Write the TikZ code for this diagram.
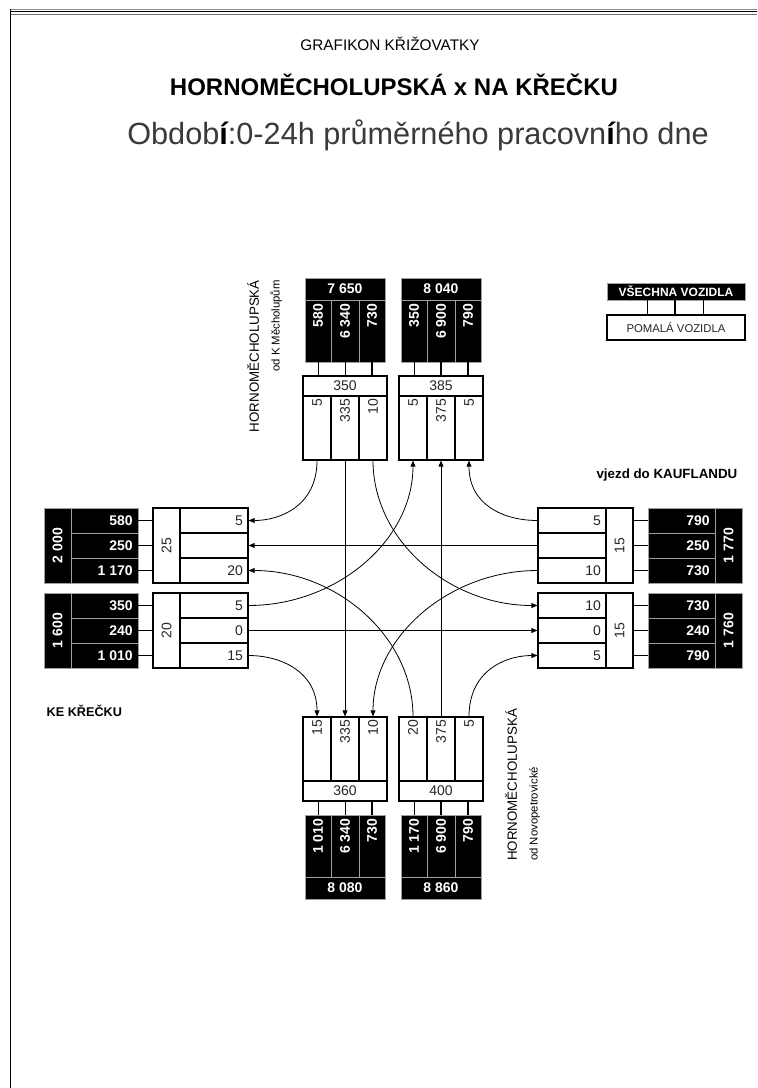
\documentclass[tikz,border=0pt]{standalone}
\usepackage{fontspec}
\setmainfont{Liberation Sans}
\usetikzlibrary{arrows.meta, positioning, fit, calc}
\definecolor{titlegray}{HTML}{3A3A3A}
\definecolor{rulegray}{HTML}{8C8C8C}
\definecolor{splitgray}{HTML}{A0A0A0}

\begin{document}
\begin{tikzpicture}[x=0.75pt, y=-0.75pt,
  wcell/.style={draw, line width=0.8pt, inner sep=0pt},
  wframe/.style={draw, line width=1.4pt, inner sep=0pt},
  bcell/.style={draw=splitgray, fill=black, line width=0.5pt, inner sep=0pt},
  wnum/.style={font=\fontsize{10.5}{11}\selectfont, text=black!85, inner sep=1pt},
  bnum/.style={font=\bfseries\fontsize{10.5}{11}\selectfont, text=white, inner sep=1pt},
  tie/.style={line width=#1},
  tie/.default=0.6pt,
  flow/.style={line width=0.6pt},
  arr/.style={flow, -{Triangle[length=4.5pt, width=3.6pt]}},
  lbl/.style={font=\fontsize{8.5}{15.5}\selectfont, inner sep=0pt}
]
\useasboundingbox (0,0) rectangle (757,1088);

% page frame
\draw[rulegray, line width=0.7pt] (10,9.5) -- (757,9.5);
\draw[line width=1.1pt] (10,11.5) -- (757,11.5);
\draw[rulegray!80!black, line width=1.4pt] (10,14.5) -- (757,14.5);
\draw[line width=1.1pt] (10.5,9) -- (10.5,1088);

% titles
\node[font=\fontsize{11.5}{13}\selectfont] (title) at (390,44) {GRAFIKON KŘIŽOVATKY};
\node[font=\bfseries\fontsize{18}{20}\selectfont] (junction) at (394,85)
  {HORNOMĚCHOLUPSKÁ x NA KŘEČKU};
\node[font=\fontsize{23}{26}\selectfont, text=titlegray] (period) at (418,135)
  {Obdob{\color{black}\bfseries í}:0-24h průměrného pracovn{\color{black}\bfseries í}ho dne};

% legend
\node[bcell, fit={(607,283) (745,300)}] (allveh) {};
\node[bnum, font=\bfseries\fontsize{9}{10}\selectfont] (allvehtxt) at (allveh.center) {VŠECHNA VOZIDLA};
\node[wframe, fit={(607,315) (745,340)}] (slowveh) {};
\node[wnum, font=\fontsize{8.5}{10}\selectfont] (slowvehtxt) at (slowveh.center) {POMALÁ VOZIDLA};
\foreach \dx/\w in {-29/0.6pt, -1/1.1pt, 27/0.6pt}
  \draw[tie=\w] (allveh.south) ++(\dx,0) coordinate (lg) -- (lg |- slowveh.north);

% north approach (from K Mecholupum)
\foreach \i/\xa/\xb/\v in {1/303/331/5, 2/331/359/335, 3/359/387/10} {
  \node[wcell, fit={(\xa,396) (\xb,460)}] (ni\i) {};
  \node[wnum, rotate=90, anchor=east] (niv\i) at ([yshift=-1.5pt]ni\i.north) {\v};
}
\node[wcell, fit={(303,376) (387,396)}] (niT) {};
\node[wnum] (nitot) at (niT.center) {350};
\node[wframe, fit={(303,376) (387,460)}] (nibox) {};
\foreach \i/\xa/\xb/\v/\w in {1/305/331/580/0.6pt, 2/331/359/6 340/0.6pt, 3/359/385/730/1.1pt} {
  \node[bcell, fit={(\xa,300) (\xb,362)}] (nib\i) {};
  \node[bnum, rotate=90, anchor=east] (nibv\i) at ([yshift=-2pt]nib\i.north) {\v};
  \draw[tie=\w] (nib\i.south) -- (nib\i.south |- niT.north);
}
\node[bcell, fit={(305,278) (385,300)}] (nibT) {};
\node[bnum] (nibtot) at (nibT.center) {7 650};

% north exit
\foreach \i/\xa/\xb/\v in {1/399/427/5, 2/427/455/375, 3/455/483/5} {
  \node[wcell, fit={(\xa,396) (\xb,460)}] (no\i) {};
  \node[wnum, rotate=90, anchor=east] (nov\i) at ([yshift=-1.5pt]no\i.north) {\v};
}
\node[wcell, fit={(399,376) (483,396)}] (noT) {};
\node[wnum] (notot) at (noT.center) {385};
\node[wframe, fit={(399,376) (483,460)}] (nobox) {};
\foreach \i/\xa/\xb/\v/\w in {1/401/427/350/0.6pt, 2/427/455/6 900/1.1pt, 3/455/481/790/1.1pt} {
  \node[bcell, fit={(\xa,300) (\xb,362)}] (nob\i) {};
  \node[bnum, rotate=90, anchor=east] (nobv\i) at ([yshift=-2pt]nob\i.north) {\v};
  \draw[tie=\w] (nob\i.south) -- (nob\i.south |- noT.north);
}
\node[bcell, fit={(401,278) (481,300)}] (nobT) {};
\node[bnum] (nobtot) at (nobT.center) {8 040};

% west exit
\foreach \i/\ya/\yb/\v in {1/508/533/5, 2/533/558/{}, 3/558/583/20} {
  \node[wcell, fit={(180,\ya) (248,\yb)}] (wo\i) {};
  \node[wnum, anchor=east] (wov\i) at ([xshift=-3pt]wo\i.east) {\v};
}
\node[wcell, fit={(153,508) (180,583)}] (woT) {};
\node[wnum, rotate=90] (wotot) at (woT.center) {25};
\node[wframe, fit={(153,508) (248,583)}] (wobox) {};
\foreach \i/\ya/\yb/\v/\w in {1/508/533/580/0.6pt, 2/533/558/250/0.6pt, 3/558/583/1 170/1.1pt} {
  \node[bcell, fit={(71,\ya) (138,\yb)}] (wob\i) {};
  \node[bnum, anchor=east] (wobv\i) at ([xshift=-3pt]wob\i.east) {\v};
  \draw[tie=\w] (wob\i.east) -- (wob\i.east -| woT.west);
}
\node[bcell, fit={(44,508) (71,583)}] (wobT) {};
\node[bnum, rotate=90] (wobtot) at (wobT.center) {2 000};

% west approach
\foreach \i/\ya/\yb/\v in {1/593/618/5, 2/618/643/0, 3/643/668/15} {
  \node[wcell, fit={(180,\ya) (248,\yb)}] (wi\i) {};
  \node[wnum, anchor=east] (wiv\i) at ([xshift=-3pt]wi\i.east) {\v};
}
\node[wcell, fit={(153,593) (180,668)}] (wiT) {};
\node[wnum, rotate=90] (witot) at (wiT.center) {20};
\node[wframe, fit={(153,593) (248,668)}] (wibox) {};
\foreach \i/\ya/\yb/\v/\w in {1/593/618/350/0.6pt, 2/618/643/240/1.1pt, 3/643/668/1 010/0.6pt} {
  \node[bcell, fit={(71,\ya) (138,\yb)}] (wib\i) {};
  \node[bnum, anchor=east] (wibv\i) at ([xshift=-3pt]wib\i.east) {\v};
  \draw[tie=\w] (wib\i.east) -- (wib\i.east -| wiT.west);
}
\node[bcell, fit={(44,593) (71,668)}] (wibT) {};
\node[bnum, rotate=90] (wibtot) at (wibT.center) {1 600};

% east approach
\foreach \i/\ya/\yb/\v in {1/508/533/5, 2/533/558/{}, 3/558/583/10} {
  \node[wcell, fit={(538,\ya) (606,\yb)}] (ei\i) {};
  \node[wnum, anchor=east] (eiv\i) at ([xshift=-3pt]ei\i.east) {\v};
}
\node[wcell, fit={(606,508) (633,583)}] (eiT) {};
\node[wnum, rotate=90] (eitot) at (eiT.center) {15};
\node[wframe, fit={(538,508) (633,583)}] (eibox) {};
\foreach \i/\ya/\yb/\v/\w in {1/508/533/790/0.6pt, 2/533/558/250/0.6pt, 3/558/583/730/1.1pt} {
  \node[bcell, fit={(648,\ya) (715,\yb)}] (eib\i) {};
  \node[bnum, anchor=east] (eibv\i) at ([xshift=-3pt]eib\i.east) {\v};
  \draw[tie=\w] (eib\i.west) -- (eib\i.west -| eiT.east);
}
\node[bcell, fit={(715,508) (742,583)}] (eibT) {};
\node[bnum, rotate=90] (eibtot) at (eibT.center) {1 770};

% east exit
\foreach \i/\ya/\yb/\v in {1/593/618/10, 2/618/643/0, 3/643/668/5} {
  \node[wcell, fit={(538,\ya) (606,\yb)}] (eo\i) {};
  \node[wnum, anchor=east] (eov\i) at ([xshift=-3pt]eo\i.east) {\v};
}
\node[wcell, fit={(606,593) (633,668)}] (eoT) {};
\node[wnum, rotate=90] (eotot) at (eoT.center) {15};
\node[wframe, fit={(538,593) (633,668)}] (eobox) {};
\foreach \i/\ya/\yb/\v/\w in {1/593/618/730/0.6pt, 2/618/643/240/1.1pt, 3/643/668/790/0.6pt} {
  \node[bcell, fit={(648,\ya) (715,\yb)}] (eob\i) {};
  \node[bnum, anchor=east] (eobv\i) at ([xshift=-3pt]eob\i.east) {\v};
  \draw[tie=\w] (eob\i.west) -- (eob\i.west -| eoT.east);
}
\node[bcell, fit={(715,593) (742,668)}] (eobT) {};
\node[bnum, rotate=90] (eobtot) at (eobT.center) {1 760};

% south exit
\foreach \i/\xa/\xb/\v in {1/303/331/15, 2/331/359/335, 3/359/387/10} {
  \node[wcell, fit={(\xa,717) (\xb,781)}] (so\i) {};
  \node[wnum, rotate=90, anchor=east] (sov\i) at ([yshift=-1.5pt]so\i.north) {\v};
}
\node[wcell, fit={(303,781) (387,801)}] (soT) {};
\node[wnum] (sotot) at (soT.center) {360};
\node[wframe, fit={(303,717) (387,801)}] (sobox) {};
\foreach \i/\xa/\xb/\v/\w in {1/305/331/1 010/0.6pt, 2/331/359/6 340/0.6pt, 3/359/385/730/1.1pt} {
  \node[bcell, fit={(\xa,815) (\xb,877)}] (sob\i) {};
  \node[bnum, rotate=90, anchor=east] (sobv\i) at ([yshift=-2pt]sob\i.north) {\v};
  \draw[tie=\w] (sob\i.north) -- (sob\i.north |- soT.south);
}
\node[bcell, fit={(305,877) (385,899)}] (sobT) {};
\node[bnum] (sobtot) at (sobT.center) {8 080};

% south approach (from Novopetrovicke)
\foreach \i/\xa/\xb/\v in {1/399/427/20, 2/427/455/375, 3/455/483/5} {
  \node[wcell, fit={(\xa,717) (\xb,781)}] (si\i) {};
  \node[wnum, rotate=90, anchor=east] (siv\i) at ([yshift=-1.5pt]si\i.north) {\v};
}
\node[wcell, fit={(399,781) (483,801)}] (siT) {};
\node[wnum] (sitot) at (siT.center) {400};
\node[wframe, fit={(399,717) (483,801)}] (sibox) {};
\foreach \i/\xa/\xb/\v/\w in {1/401/427/1 170/0.6pt, 2/427/455/6 900/1.1pt, 3/455/481/790/1.1pt} {
  \node[bcell, fit={(\xa,815) (\xb,877)}] (sib\i) {};
  \node[bnum, rotate=90, anchor=east] (sibv\i) at ([yshift=-2pt]sib\i.north) {\v};
  \draw[tie=\w] (sib\i.north) -- (sib\i.north |- siT.south);
}
\node[bcell, fit={(401,877) (481,899)}] (sibT) {};
\node[bnum] (sibtot) at (sibT.center) {8 860};

% turning movements
\draw[arr] (ni1.south) .. controls +(0,45) and +(32,0) .. (wo1.east);
\draw[arr] (ni2.south) -- (so2.north);
\draw[arr] (ni3.south) .. controls +(0,80) and +(-88,0) .. (eo1.west);
\draw[arr] (wi1.east) .. controls +(88,0) and +(0,80) .. (no1.south);
\draw[arr] (wi2.east) -- (eo2.west);
\draw[arr] (wi3.east) .. controls +(32,0) and +(0,-45) .. (so1.north);
\draw[arr] (ei1.west) .. controls +(-33,0) and +(0,45) .. (no3.south);
\draw[arr] (ei2.west) -- (wo2.east);
\draw[arr] (ei3.west) .. controls +(-88,0) and +(0,-80) .. (so3.north);
\draw[arr] (si1.north) .. controls +(0,-80) and +(88,0) .. (wo3.east);
\draw[arr] (si2.north) -- (no2.south);
\draw[arr] (si3.north) .. controls +(0,-45) and +(-33,0) .. (eo3.west);

% street names
\node[lbl, rotate=90, anchor=north east, align=right] (northname) at (247,280)
  {{\fontsize{10}{15.5}\selectfont HORNOMĚCHOLUPSKÁ}\\od K Měcholupům};
\node[lbl, rotate=90, anchor=north west, align=left] (southname) at (505,861)
  {{\fontsize{10}{15.5}\selectfont HORNOMĚCHOLUPSKÁ}\\od Novopetrovické};
\node[font=\bfseries\fontsize{10}{11}\selectfont, anchor=east] (mall) at (742,475) {vjezd do KAUFLANDU};
\node[font=\bfseries\fontsize{9.5}{11}\selectfont, anchor=west] (krecek) at (42,711) {KE KŘEČKU};
\end{tikzpicture}
\end{document}
